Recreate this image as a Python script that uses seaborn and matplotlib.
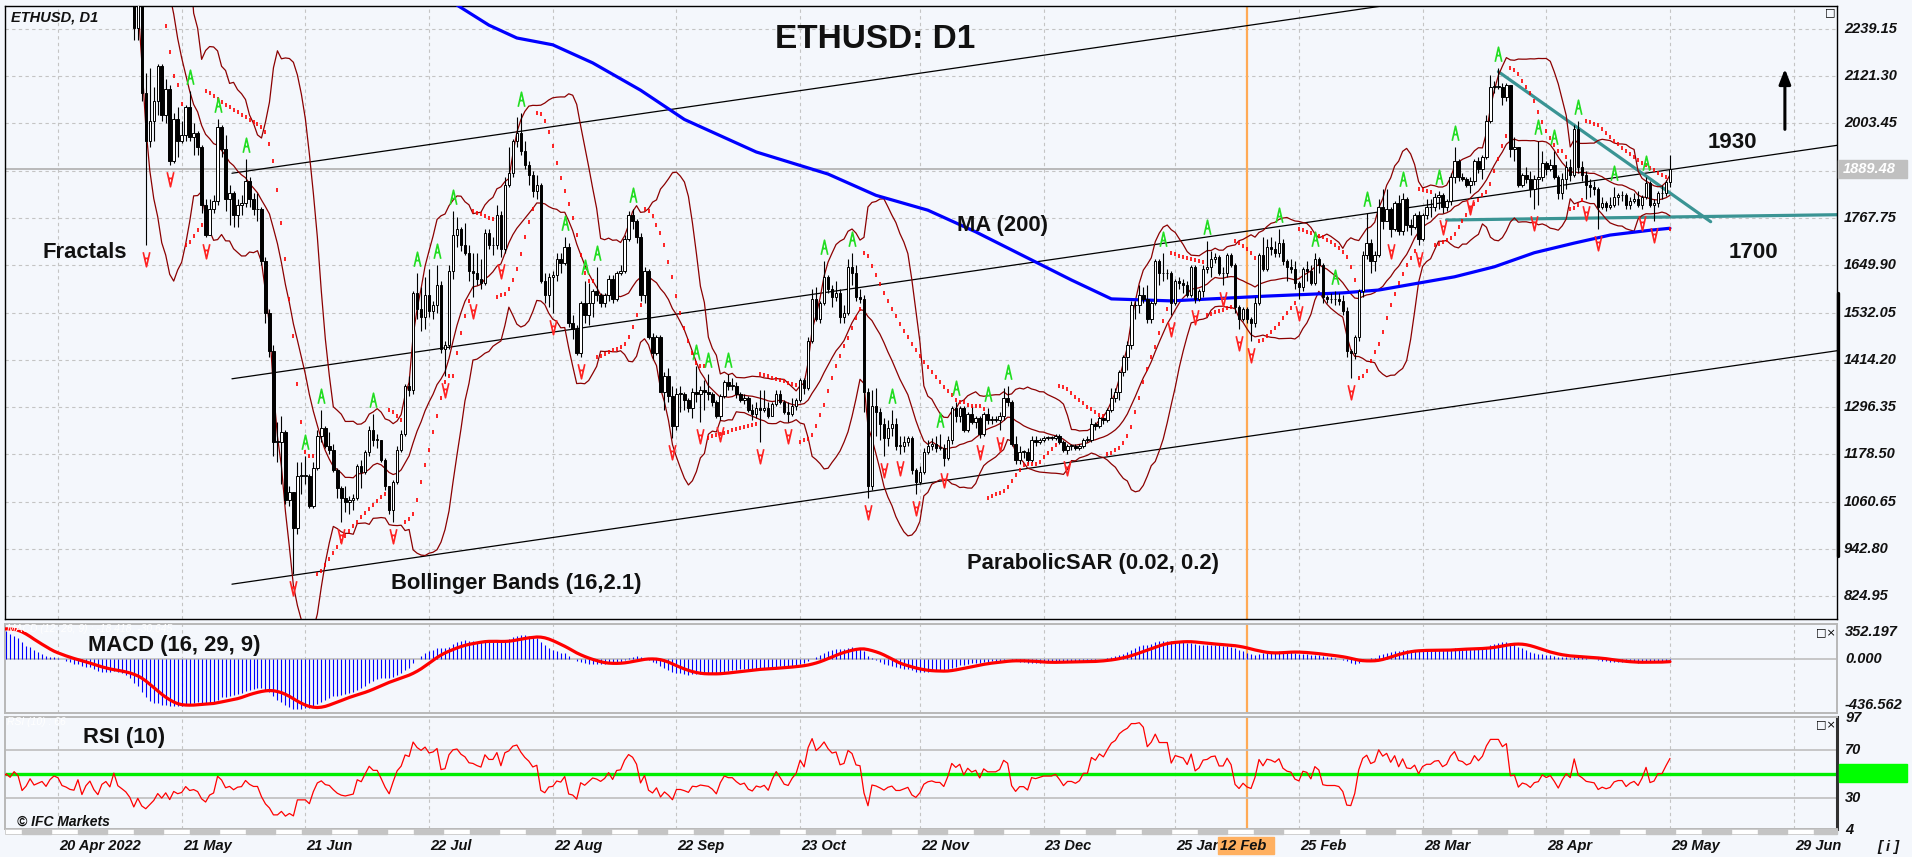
import numpy as np
import pandas as pd
import matplotlib
matplotlib.use("Agg")
import matplotlib.pyplot as plt
import matplotlib.transforms as mtransforms
from matplotlib.path import Path
from matplotlib.patches import Rectangle
import seaborn as sns

sns.set_style("white")
plt.rcParams['font.family'] = ['Liberation Sans', 'DejaVu Sans']

W, H = 1912, 857
BG = '#F4F7FC'

# closes before the first drawn candle (2022-01-10 .. 2022-04-19); feed the indicators
pre_close = [
    3080, 3240, 3370, 3250, 3310, 3330, 3350, 3210, 3165, 3095, 3000, 2560, 2410, 2540, 2440, 2460, 2465, 2420, 2545, 2600, 2605, 2690,
    2790, 2680, 2665, 2990, 3010, 3060, 3140, 3120, 3240, 3080, 2930, 2920, 2880, 2930, 3180, 3120, 2880, 2785, 2765, 2630, 2575, 2640, 2600, 2600, 2780, 2780, 2620, 2920,
    2970, 2950, 2835, 2625, 2665, 2555, 2500, 2575, 2730, 2610, 2560, 2560, 2520, 2590, 2620, 2770, 2815, 2945, 2950, 2860, 2895, 2970, 3030, 3110, 3105, 3145, 3290, 3330, 3400, 3385, 3280,
    3450, 3445, 3520, 3520, 3410, 3170, 3235, 3190, 3260, 3210, 2980, 3030, 3120, 3020, 3040, 3060, 2990, 3060, 3100,
]

# daily bars 2022-04-20 .. 2023-05-29 (one line per month)
closes = [
    3080, 2985, 2965, 2935, 2925, 3005, 2810, 2890, 2935, 2815, 2730,
    2830, 2860, 2785, 2940, 2750, 2695, 2635, 2520, 2240, 2340, 2080, 1960, 2010, 2060, 2145, 2025, 2090, 1910, 2015, 1960, 1975, 2045, 1970, 1980, 1945, 1800, 1725, 1790, 1810, 1995, 1940,
    1815, 1830, 1775, 1800, 1805, 1860, 1815, 1790, 1790, 1660, 1530, 1435, 1210, 1210, 1235, 1065, 1085, 995, 1125, 1125, 1125, 1050, 1145, 1225, 1245, 1200, 1190, 1140, 1095, 1070,
    1060, 1065, 1070, 1150, 1135, 1185, 1240, 1215, 1215, 1165, 1100, 1040, 1110, 1190, 1230, 1350, 1340, 1580, 1540, 1520, 1575, 1535, 1550, 1600, 1440, 1450, 1635, 1725, 1740, 1700, 1680,
    1635, 1630, 1615, 1605, 1730, 1700, 1700, 1775, 1690, 1850, 1880, 1960, 1980, 1935, 1900, 1875, 1835, 1850, 1610, 1575, 1620, 1625, 1665, 1655, 1695, 1505, 1490, 1430, 1555, 1525, 1555,
    1585, 1575, 1555, 1575, 1615, 1565, 1630, 1635, 1715, 1775, 1760, 1720, 1575, 1635, 1470, 1430, 1470, 1335, 1375, 1325, 1250, 1330, 1330, 1315, 1295, 1335, 1330, 1340, 1335, 1330,
    1310, 1275, 1325, 1360, 1350, 1350, 1330, 1315, 1320, 1290, 1280, 1295, 1290, 1295, 1275, 1305, 1330, 1310, 1285, 1280, 1300, 1315, 1365, 1345, 1460, 1565, 1515, 1555, 1620, 1590, 1570,
    1580, 1520, 1530, 1645, 1630, 1570, 1565, 1335, 1100, 1300, 1285, 1255, 1220, 1245, 1255, 1200, 1200, 1210, 1220, 1140, 1110, 1135, 1185, 1200, 1205, 1195, 1195, 1170, 1215, 1295,
    1275, 1295, 1240, 1280, 1260, 1270, 1230, 1280, 1265, 1265, 1265, 1275, 1320, 1310, 1205, 1165, 1185, 1185, 1165, 1215, 1210, 1215, 1220, 1220, 1220, 1225, 1210, 1190, 1200, 1200, 1195,
    1200, 1215, 1215, 1255, 1250, 1270, 1265, 1290, 1320, 1335, 1385, 1420, 1450, 1550, 1550, 1575, 1565, 1515, 1555, 1660, 1630, 1630, 1630, 1555, 1610, 1605, 1600, 1575, 1645, 1565, 1585,
    1640, 1645, 1665, 1670, 1630, 1630, 1675, 1650, 1545, 1515, 1540, 1515, 1505, 1555, 1675, 1640, 1695, 1690, 1680, 1705, 1660, 1645, 1640, 1605, 1595, 1640, 1635, 1605,
    1665, 1650, 1570, 1565, 1565, 1565, 1560, 1535, 1435, 1430, 1470, 1585, 1675, 1705, 1660, 1675, 1795, 1760, 1790, 1740, 1805, 1735, 1815, 1750, 1745, 1775, 1715, 1775, 1795, 1795, 1820,
    1825, 1795, 1810, 1870, 1910, 1870, 1865, 1850, 1860, 1910, 1890, 1920, 2010, 2095, 2095, 2095, 2070, 2100, 1940, 1945, 1850, 1875, 1865, 1840, 1865, 1870, 1905, 1890, 1900, 1870,
    1830, 1865, 1895, 1875, 1990, 1895, 1875, 1850, 1845, 1840, 1795, 1805, 1795, 1800, 1820, 1825, 1825, 1800, 1810, 1815, 1800, 1820, 1855, 1800, 1805, 1830, 1830, 1858, 1889.48,
]
highs = [
    3170, 3175, 3025, 2985, 2955, 3020, 3035, 2925, 2985, 2945, 2835,
    2835, 2885, 2875, 2965, 2955, 2765, 2695, 2640, 2525, 2455, 2445, 2130, 2140, 2095, 2150, 2150, 2115, 2100, 2030, 2045, 2010, 2050, 2085, 2005, 1985, 1950, 1815, 1815, 1825, 2015, 2000,
    1975, 1850, 1835, 1815, 1825, 1915, 1870, 1830, 1830, 1795, 1670, 1540, 1450, 1260, 1275, 1240, 1100, 1085, 1160, 1160, 1175, 1130, 1160, 1240, 1290, 1250, 1235, 1205, 1145, 1100,
    1100, 1075, 1080, 1155, 1165, 1190, 1250, 1280, 1230, 1215, 1170, 1100, 1115, 1200, 1240, 1355, 1375, 1585, 1630, 1595, 1620, 1640, 1560, 1650, 1610, 1460, 1650, 1785, 1770, 1745, 1755,
    1700, 1680, 1680, 1665, 1740, 1740, 1720, 1800, 1785, 1870, 1945, 1965, 2020, 2030, 1960, 1910, 1885, 1875, 1855, 1630, 1630, 1635, 1680, 1680, 1720, 1705, 1525, 1500, 1560, 1610, 1605,
    1590, 1645, 1580, 1580, 1625, 1625, 1635, 1650, 1725, 1785, 1790, 1765, 1730, 1645, 1640, 1480, 1475, 1475, 1385, 1395, 1350, 1345, 1350, 1335, 1320, 1345, 1400, 1350, 1365, 1380,
    1335, 1315, 1330, 1365, 1380, 1370, 1360, 1335, 1330, 1325, 1305, 1310, 1340, 1340, 1310, 1310, 1340, 1340, 1315, 1310, 1320, 1320, 1370, 1370, 1470, 1590, 1595, 1560, 1660, 1625, 1600,
    1610, 1590, 1550, 1665, 1680, 1650, 1590, 1575, 1345, 1340, 1345, 1295, 1270, 1265, 1290, 1270, 1225, 1225, 1225, 1225, 1145, 1150, 1195, 1215, 1220, 1225, 1230, 1205, 1225, 1300,
    1310, 1300, 1300, 1285, 1300, 1275, 1275, 1285, 1295, 1275, 1275, 1285, 1345, 1350, 1315, 1225, 1200, 1190, 1195, 1225, 1225, 1220, 1225, 1225, 1225, 1230, 1230, 1215, 1205, 1205, 1205,
    1205, 1220, 1225, 1270, 1260, 1275, 1275, 1295, 1345, 1345, 1390, 1425, 1460, 1560, 1560, 1600, 1595, 1600, 1560, 1665, 1665, 1680, 1640, 1635, 1615, 1620, 1615, 1610, 1650, 1650, 1590,
    1650, 1710, 1685, 1680, 1675, 1645, 1680, 1680, 1655, 1550, 1545, 1545, 1520, 1570, 1680, 1720, 1715, 1720, 1710, 1740, 1715, 1665, 1665, 1660, 1610, 1645, 1660, 1650,
    1680, 1670, 1655, 1575, 1580, 1585, 1580, 1575, 1545, 1440, 1475, 1590, 1685, 1780, 1715, 1685, 1815, 1840, 1840, 1795, 1810, 1825, 1830, 1820, 1765, 1780, 1785, 1780, 1815, 1815, 1830,
    1835, 1830, 1815, 1880, 1945, 1915, 1880, 1870, 1870, 1915, 1920, 1925, 2025, 2125, 2110, 2140, 2105, 2105, 2100, 1970, 1945, 1880, 1895, 1885, 1875, 1960, 1935, 1910, 1915, 1935,
    1875, 1880, 1910, 1915, 2000, 2010, 1910, 1885, 1865, 1860, 1845, 1820, 1810, 1820, 1845, 1830, 1835, 1830, 1820, 1830, 1835, 1825, 1870, 1860, 1815, 1835, 1850, 1862, 1925,
]
lows = [
    3030, 2960, 2940, 2920, 2880, 2805, 2790, 2780, 2860, 2780, 2720,
    2700, 2785, 2770, 2780, 2730, 2675, 2560, 2500, 2210, 2210, 2060, 1700, 1945, 1960, 2025, 2010, 2005, 1900, 1905, 1920, 1955, 1960, 1960, 1925, 1925, 1780, 1720, 1725, 1780, 1800, 1920,
    1785, 1750, 1745, 1745, 1775, 1795, 1795, 1775, 1760, 1650, 1505, 1420, 1175, 1160, 1105, 1055, 1050, 880, 980, 1080, 1105, 1045, 1045, 1140, 1210, 1195, 1180, 1135, 1070, 1010,
    1035, 1030, 1040, 1065, 1095, 1130, 1175, 1200, 1195, 1160, 1090, 1030, 1010, 1105, 1185, 1225, 1325, 1330, 1515, 1485, 1490, 1520, 1515, 1530, 1430, 1375, 1440, 1615, 1695, 1685, 1675,
    1610, 1570, 1600, 1590, 1600, 1690, 1675, 1690, 1670, 1680, 1845, 1870, 1945, 1925, 1890, 1850, 1820, 1815, 1605, 1555, 1545, 1530, 1610, 1630, 1650, 1495, 1465, 1425, 1420, 1505, 1500,
    1520, 1560, 1545, 1545, 1560, 1555, 1560, 1625, 1630, 1710, 1740, 1705, 1560, 1555, 1465, 1415, 1425, 1335, 1290, 1310, 1220, 1240, 1285, 1290, 1285, 1270, 1310, 1260, 1290, 1315,
    1300, 1270, 1265, 1320, 1340, 1340, 1320, 1310, 1305, 1285, 1265, 1270, 1210, 1285, 1270, 1275, 1300, 1305, 1280, 1260, 1275, 1290, 1310, 1330, 1340, 1455, 1510, 1505, 1550, 1580, 1545,
    1560, 1505, 1505, 1525, 1600, 1560, 1555, 1285, 1070, 1090, 1225, 1215, 1175, 1200, 1225, 1190, 1180, 1185, 1200, 1130, 1080, 1105, 1130, 1180, 1190, 1185, 1190, 1150, 1165, 1205,
    1260, 1260, 1235, 1235, 1255, 1245, 1220, 1225, 1255, 1255, 1260, 1240, 1265, 1300, 1200, 1155, 1155, 1170, 1155, 1160, 1200, 1205, 1210, 1215, 1215, 1215, 1205, 1185, 1180, 1190, 1190,
    1190, 1195, 1210, 1210, 1240, 1245, 1255, 1260, 1285, 1310, 1315, 1375, 1390, 1440, 1515, 1530, 1555, 1505, 1505, 1550, 1600, 1610, 1615, 1525, 1550, 1590, 1580, 1570, 1570, 1555, 1560,
    1570, 1630, 1620, 1655, 1625, 1600, 1620, 1645, 1530, 1490, 1510, 1505, 1460, 1495, 1550, 1635, 1635, 1675, 1670, 1670, 1650, 1610, 1630, 1590, 1565, 1585, 1610, 1600,
    1600, 1630, 1555, 1555, 1555, 1550, 1550, 1525, 1420, 1370, 1415, 1460, 1570, 1665, 1630, 1635, 1670, 1740, 1760, 1720, 1735, 1725, 1725, 1735, 1725, 1740, 1700, 1710, 1765, 1770, 1785,
    1790, 1780, 1785, 1800, 1855, 1860, 1860, 1845, 1830, 1850, 1880, 1865, 1915, 2005, 2080, 2090, 2050, 2060, 1920, 1910, 1845, 1845, 1855, 1820, 1790, 1800, 1860, 1875, 1885, 1865,
    1815, 1815, 1840, 1860, 1870, 1880, 1860, 1815, 1820, 1825, 1740, 1790, 1785, 1790, 1795, 1800, 1810, 1790, 1790, 1805, 1795, 1790, 1815, 1795, 1760, 1795, 1815, 1822, 1845,
]

# MA(200) (bar index, price)
ma_idx = [100, 108, 115, 124, 134, 146, 157, 175, 193, 205, 218, 230, 242, 254, 264, 279, 303, 322, 331, 350, 360, 370, 380, 389, 399, 404]
ma_val = [2298, 2248, 2216, 2199, 2154, 2086, 2013, 1932, 1877, 1824, 1787, 1733, 1673, 1613, 1566, 1561, 1573, 1581, 1588, 1621, 1646, 1681, 1705, 1725, 1737, 1742]

# time axis
date_labels = ['20 Apr 2022', '21 May', '21 Jun', '22 Jul', '22 Aug', '22 Sep', '23 Oct', '22 Nov',
               '23 Dec', '25 Jan', '25 Feb', '28 Mar', '28 Apr', '29 May', '29 Jun']
date_idx = [0, 31, 62, 93, 124, 155, 186, 216, 247, 280, 311, 342, 373, 404, 435]
marker_idx, marker_label = 298, '12 Feb'

price_ticks = [2239.15, 2121.30, 2003.45, 1885.60, 1767.75, 1649.90, 1532.05, 1414.20, 1296.35,
               1178.50, 1060.65, 942.80, 824.95]
last_price = 1889.48
macd_labels = ['352.197', '0.000', '-436.562']
rsi_labels = [97, 70, 50, 30, 4]

# analyst lines (bar index, price)
chan_x = [43.6, 445.9]
chan_upper = [1879.0, 2460.6]
chan_mid = [1366.9, 1948.6]
chan_lower = [855.2, 1436.9]
tri_down_x, tri_down_y = [361.0, 414.2], [2132.0, 1758.3]
tri_flat_x, tri_flat_y = [348.0, 445.9], [1762.5, 1775.7]
arrow_x, arrow_y = 432.8, [1981.5, 2146.0]

# ---------------------------------------------------------------------------
n = len(closes)
npre = len(pre_close)
idx = np.arange(n)
c = np.array(closes, float)
o = np.array([pre_close[-1]] + closes[:-1], float)
hi = np.maximum(np.array(highs, float), np.maximum(o, c))
lo = np.minimum(np.array(lows, float), np.minimum(o, c))

# indicators on the whole close history, bar index negative before 2022-04-20
full = pd.Series(pre_close + closes, dtype=float)
xall = np.arange(-npre, n)
vis = xall >= -14

mid = full.rolling(16).mean()
sd = full.rolling(16).std(ddof=0)
bb_mid = mid.to_numpy()
bb_up = (mid + 2.1 * sd).to_numpy()
bb_dn = (mid - 2.1 * sd).to_numpy()

macd = (full.ewm(span=16, adjust=False).mean() - full.ewm(span=29, adjust=False).mean())
signal = macd.rolling(9).mean()
macd = macd.to_numpy()
signal = signal.to_numpy()

delta = full.diff()
gain = delta.clip(lower=0).ewm(alpha=1 / 10, adjust=False).mean()
loss = (-delta.clip(upper=0)).ewm(alpha=1 / 10, adjust=False).mean()
rsi = (100 - 100 / (1 + gain / loss)).to_numpy()


def parabolic_sar(h, l, step=0.02, mx=0.2):
    sar = np.zeros(len(h))
    up, af, ep = False, step, l[0]
    sar[0] = h[0]
    for i in range(1, len(h)):
        s = sar[i - 1] + af * (ep - sar[i - 1])
        if up:
            s = min(s, l[i - 1], l[max(i - 2, 0)])
            if l[i] < s:
                up, s, ep, af = False, ep, l[i], step
            elif h[i] > ep:
                ep, af = h[i], min(af + step, mx)
        else:
            s = max(s, h[i - 1], h[max(i - 2, 0)])
            if h[i] > s:
                up, s, ep, af = True, ep, h[i], step
            elif l[i] < ep:
                ep, af = l[i], min(af + step, mx)
        sar[i] = s
    return sar


sar = parabolic_sar(hi, lo)

frac_up = [i for i in range(2, n - 2) if hi[i] > max(hi[i - 2], hi[i - 1], hi[i + 1], hi[i + 2])]
frac_dn = [i for i in range(2, n - 2) if lo[i] < min(lo[i - 2], lo[i - 1], lo[i + 1], lo[i + 2])]

# ---------------------------------------------------------------------------
fig = plt.figure(figsize=(W / 100, H / 100), dpi=100, facecolor=BG)


def fbox(x0, y0, x1, y1):
    return [x0 / W, 1 - y1 / H, (x1 - x0) / W, (y1 - y0) / H]


ax = fig.add_axes(fbox(5, 6, 1837, 619.3))
axm = fig.add_axes(fbox(5, 624, 1837, 712.7))
axr = fig.add_axes(fbox(5, 717.3, 1837, 829.3))

XL = (-13.28, 445.86)
for a in (ax, axm, axr):
    a.set_facecolor(BG)
    for t in date_idx:
        a.axvline(t, color='#C4C4C4', lw=0.8, ls=(0, (3, 3)), zorder=0)
    a.axvline(marker_idx, color='#FFAA55', lw=1.6, zorder=1)

for sp in ax.spines.values():
    sp.set_color('black')
    sp.set_linewidth(1.0)
for a in (axm, axr):
    for sp in a.spines.values():
        sp.set_color('#B8B8B8')
        sp.set_linewidth(1.4)
axr.spines['right'].set_color('#303030')
axr.spines['right'].set_linewidth(2.2)

# main panel grid and current price line
for p in price_ticks:
    ax.axhline(p, color='#C4C4C4', lw=0.8, ls=(0, (3, 3)), zorder=0)
ax.plot([XL[0], n - 1], [last_price, last_price], color='#B4B4B4', lw=1.3, zorder=0.5)

# analyst channel and triangle
for yy in (chan_upper, chan_mid, chan_lower):
    ax.plot(chan_x, yy, color='black', lw=0.9, zorder=2)
ax.plot(tri_down_x, tri_down_y, color='#3A9494', lw=2.3, zorder=2)
ax.plot(tri_flat_x, tri_flat_y, color='#3A9494', lw=2.3, zorder=2)

# Bollinger bands and MA
for band in (bb_up, bb_mid, bb_dn):
    sns.lineplot(x=xall[vis], y=band[vis], ax=ax, color='#8B0000', lw=0.9, legend=False,
                 estimator=None, sort=False, zorder=2)
sns.lineplot(x=ma_idx, y=ma_val, ax=ax, color='#0000FF', lw=2.3, legend=False, estimator=None,
             sort=False, zorder=3)

# candles
ax.vlines(idx, lo, hi, color='black', lw=0.8, zorder=4)
bull = c >= o
ax.bar(idx[bull], np.maximum(c - o, 1)[bull], bottom=o[bull], width=0.62, color='white',
       edgecolor='black', lw=0.7, zorder=5)
ax.bar(idx[~bull], (o - c)[~bull], bottom=c[~bull], width=0.62, color='black', edgecolor='black',
       lw=0.7, zorder=5)

# parabolic SAR
ax.plot(idx, sar, ls='none', marker='|', ms=3.2, mew=1.2, color='#FF0000', zorder=6)

# fractals
a_path = Path([(-0.45, -1.0), (0.0, 1.0), (0.45, -1.0), (-0.22, -0.15), (0.22, -0.15)],
              [Path.MOVETO, Path.LINETO, Path.LINETO, Path.MOVETO, Path.LINETO])
v_path = Path([(x, -y) for x, y in a_path.vertices], a_path.codes)
up_tr = mtransforms.offset_copy(ax.transData, fig=fig, y=14, units='dots')
dn_tr = mtransforms.offset_copy(ax.transData, fig=fig, y=-14, units='dots')
ax.plot(frac_up, hi[frac_up], ls='none', marker=a_path, ms=10.5, mfc='none', mec='#22DD22', mew=1.2,
        transform=up_tr, zorder=7)
ax.plot(frac_dn, lo[frac_dn], ls='none', marker=v_path, ms=10.5, mfc='none', mec='#FF2222', mew=1.2,
        transform=dn_tr, zorder=7)

# arrow
ax.annotate('', xy=(arrow_x, arrow_y[1]), xytext=(arrow_x, arrow_y[0]),
            arrowprops=dict(arrowstyle='-|>,head_length=0.9,head_width=0.35', color='black', lw=2.2),
            zorder=8)

# MACD panel (scaled to the visible extremes, like the terminal does)
axm.axhline(0, color='#BEBEBE', lw=1.2, zorder=1)
axm.vlines(xall[vis], 0, macd[vis], color='#0000FF', lw=0.8, zorder=2)
sns.lineplot(x=xall[vis], y=signal[vis], ax=axm, color='#FF0000', lw=2.3, legend=False,
             estimator=None, sort=False, zorder=3)
mv = np.concatenate([macd[vis], signal[vis]])
mv = mv[~np.isnan(mv)]
span = mv.max() - mv.min()
axm.set_ylim(mv.min() - 0.04 * span, mv.max() + 0.06 * span)

# RSI panel
for lvl in (70, 30):
    axr.axhline(lvl, color='#BEBEBE', lw=1.2, zorder=1)
axr.axhline(50, color='#00EE00', lw=2.4, zorder=2)
sns.lineplot(x=xall[vis], y=rsi[vis], ax=axr, color='#FF0000', lw=0.9, legend=False,
             estimator=None, sort=False, zorder=3)

ax.set_ylim(767.7, 2295.7)
axr.set_ylim(4.17, 97.5)
for a in (ax, axm, axr):
    a.set_xlim(*XL)
    a.set_xticks([])
    a.set_yticks([])
    a.set_xlabel('')
    a.set_ylabel('')

# ---------------------------------------------------------------------------
def ftext(x, y, s, **kw):
    kw.setdefault('va', 'center')
    return fig.text(x / W, 1 - y / H, s, **kw)


lab = dict(fontsize=15.8, fontweight='bold', color='#111111')
ftext(875, 39, 'ETHUSD: D1', ha='center', fontsize=24, fontweight='bold', color='#111111')
ftext(11, 18, 'ETHUSD, D1', fontsize=10.5, fontweight='bold', fontstyle='italic', color='#111111')
ftext(43, 253, 'Fractals', **lab)
ftext(957, 226, 'MA (200)', **lab)
ftext(391, 583, 'Bollinger Bands (16,2.1)', **lab)
ftext(967, 563, 'ParabolicSAR (0.02, 0.2)', **lab)
ftext(88, 646, 'MACD (16, 29, 9)', **lab)
ftext(83, 738, 'RSI (10)', **lab)
ftext(1708, 142, '1930', fontsize=16, fontweight='bold', color='#111111')
ftext(1729, 252, '1700', fontsize=16, fontweight='bold', color='#111111')
ftext(17, 822, '© IFC Markets', fontsize=10, fontweight='bold', fontstyle='italic', color='#111111')
ftext(7, 629, 'MACD (12, 26, 9) : -18.418, -30.645', fontsize=7.5, fontstyle='italic', color='white')
ftext(7, 722, 'RSI (10) : 66', fontsize=7.5, fontstyle='italic', color='white')

tick = dict(fontsize=10.5, fontweight='bold', fontstyle='italic', color='#111111')
ytr = ax.get_yaxis_transform()
for p in price_ticks:
    if abs(p - last_price) > 10:
        ax.text(1.0038, p, f'{p:.2f}', transform=ytr, va='center', ha='left', clip_on=False, **tick)
fig.patches.append(Rectangle((1838 / W, 1 - 177.7 / H), 69 / W, 17.7 / H, transform=fig.transFigure,
                             color='#C0C0C0', zorder=5))
ftext(1843, 169, f'{last_price:.2f}', fontsize=10.5, fontweight='bold', fontstyle='italic',
      color='white', zorder=6)

ftext(1845, 632, macd_labels[0], **tick)
axm.text(1.0045, 0, macd_labels[1], transform=axm.get_yaxis_transform(), va='center', ha='left',
         clip_on=False, **tick)
ftext(1845, 705, macd_labels[2], **tick)

fig.patches.append(Rectangle((1839 / W, 1 - 782 / H), 68 / W, 18 / H, transform=fig.transFigure,
                             color='#00FF00', zorder=5))
for v in rsi_labels:
    axr.text(1.0045, v, str(v), transform=axr.get_yaxis_transform(), va='center', ha='left',
             clip_on=False, zorder=6, **tick)

# date labels
xtr = mtransforms.blended_transform_factory(axr.transData, axr.transAxes)
for t, s in zip(date_idx, date_labels):
    axr.text(t + 0.3, -0.149, s, transform=xtr, ha='left', va='center', clip_on=False, **tick)
fig.patches.append(Rectangle((1218 / W, 1 - 854 / H), 56 / W, 17 / H, transform=fig.transFigure,
                             color='#FFB060', zorder=5))
ftext(1220, 846, marker_label, zorder=6, **tick)
ftext(1877, 847, '[ i ]', **tick)

# window buttons
btn = dict(fontsize=8, family='DejaVu Sans', color='black')
ftext(1816, 632, '□×', **btn)
ftext(1816, 724, '□×', **btn)
ftext(1825, 12, '□', **btn)

# scroll strip under the RSI panel and scroll marker on the price axis
fig.patches.append(Rectangle((5 / W, 1 - 833.5 / H), 1832 / W, 4.5 / H, transform=fig.transFigure,
                             facecolor='white', edgecolor='#C8C8C8', lw=0.6, zorder=4))
for k in range(33):
    x0 = 22 + 56 * k
    x1 = min(x0 + 29, 1837)
    if x0 < 1837:
        fig.patches.append(Rectangle((x0 / W, 1 - 833.5 / H), (x1 - x0) / W, 4.5 / H,
                                     transform=fig.transFigure, color='#C4C4C4', zorder=5))
fig.lines.append(plt.Line2D([1837.5 / W, 1837.5 / W], [1 - 293 / H, 1 - 556 / H],
                            transform=fig.transFigure, color='black', lw=2.4))

fig.savefig('out.png', dpi=100, facecolor=BG)
